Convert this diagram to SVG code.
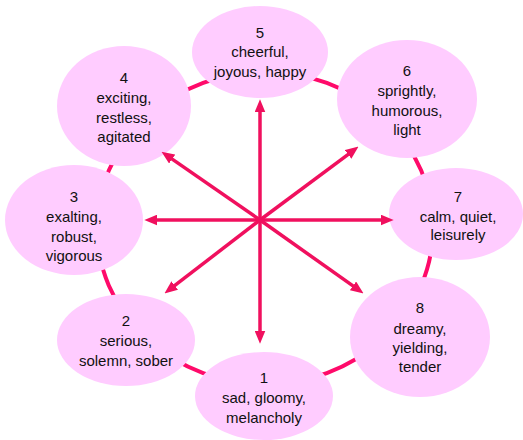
<svg xmlns="http://www.w3.org/2000/svg" width="523" height="440" viewBox="0 0 523 440">
<style>
.node ellipse{fill:#FFCCFF;stroke:none}
.node text{font-family:"Liberation Sans","DejaVu Sans",sans-serif;font-size:15px;fill:#111;text-anchor:middle}
.ring{fill:none;stroke:#FF0A6A;stroke-width:4}
.arrow{stroke:#F0105E;stroke-width:3.5;fill:none;marker-end:url(#head)}
</style>
<defs>
<marker id="head" markerUnits="userSpaceOnUse" markerWidth="13" markerHeight="11" refX="4" refY="5" orient="auto" viewBox="0 0 12 10">
<path d="M0,0 L12,5 L0,10 z" fill="#F0105E"/>
</marker>
</defs>
<g id="connectors-ring">
<ellipse class="ring" cx="265" cy="228" rx="168" ry="156"/>
</g>
<g id="node5" class="node"><ellipse cx="260" cy="52" rx="68" ry="46"/><text x="260" y="38">5</text><text x="260" y="57">cheerful,</text><text x="260" y="77">joyous, happy</text></g>
<g id="node4" class="node"><ellipse cx="124" cy="106" rx="67" ry="60"/><text x="124" y="83">4</text><text x="124" y="103">exciting,</text><text x="124" y="123">restless,</text><text x="124" y="142">agitated</text></g>
<g id="node3" class="node"><ellipse cx="74" cy="220" rx="69" ry="55"/><text x="74" y="202">3</text><text x="74" y="222">exalting,</text><text x="74" y="242">robust,</text><text x="74" y="261">vigorous</text></g>
<g id="node6" class="node"><ellipse cx="407" cy="99" rx="70" ry="59"/><text x="407" y="76">6</text><text x="407" y="96">sprightly,</text><text x="407" y="116">humorous,</text><text x="407" y="135">light</text></g>
<g id="node7" class="node"><ellipse cx="456" cy="214" rx="67" ry="46"/><text x="458" y="202">7</text><text x="458" y="222">calm, quiet,</text><text x="458" y="240">leisurely</text></g>
<g id="node2" class="node"><ellipse cx="126" cy="340" rx="69" ry="46"/><text x="126" y="326">2</text><text x="126" y="346">serious,</text><text x="126" y="366">solemn, sober</text></g>
<g id="node1" class="node"><ellipse cx="264" cy="396" rx="69" ry="44"/><text x="264" y="383">1</text><text x="264" y="403">sad, gloomy,</text><text x="264" y="423">melancholy</text></g>
<g id="node8" class="node"><ellipse cx="420" cy="337" rx="70" ry="60"/><text x="420" y="313">8</text><text x="420" y="334">dreamy,</text><text x="420" y="353">yielding,</text><text x="420" y="372">tender</text></g>
<g id="connectors-arrows">
<line class="arrow" x1="260" y1="220" x2="260" y2="108"/>
<line class="arrow" x1="260" y1="220" x2="260" y2="335"/>
<line class="arrow" x1="260" y1="220" x2="153" y2="220"/>
<line class="arrow" x1="260" y1="220" x2="385" y2="220"/>
<line class="arrow" x1="260" y1="220" x2="168.6" y2="156.6"/>
<line class="arrow" x1="260" y1="220" x2="351.6" y2="151.8"/>
<line class="arrow" x1="260" y1="220" x2="171.3" y2="288.1"/>
<line class="arrow" x1="260" y1="220" x2="356.5" y2="288.4"/>
</g>
</svg>
